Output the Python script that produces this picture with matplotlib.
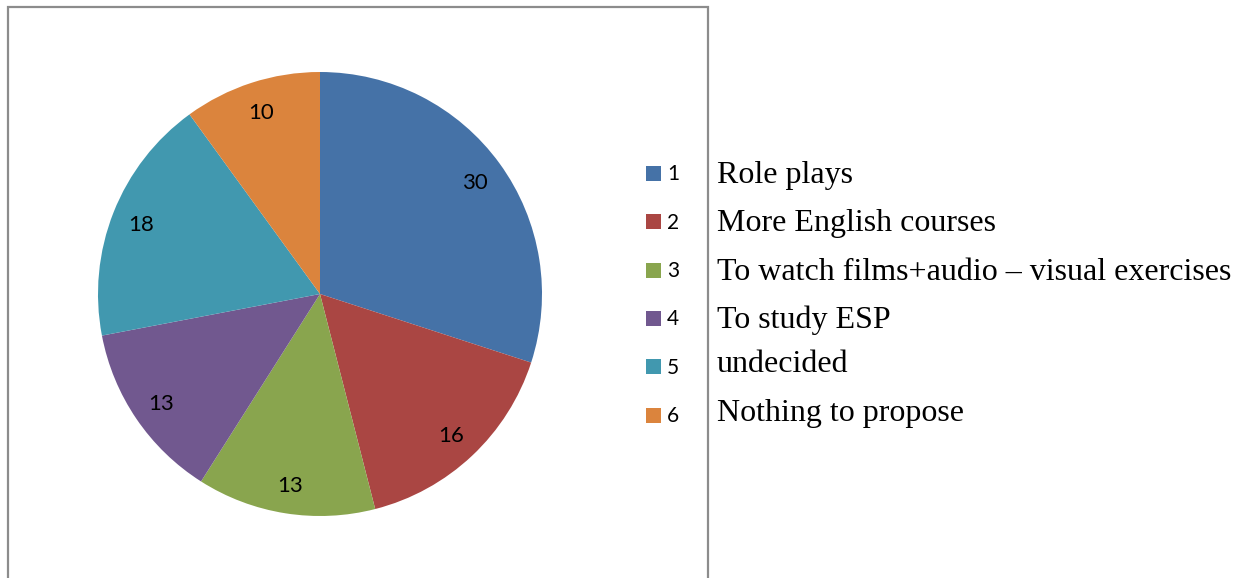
import matplotlib
matplotlib.use("Agg")
import matplotlib.pyplot as plt
from matplotlib.patches import Rectangle

categories = ["1", "2", "3", "4", "5", "6"]
descriptions = ["Role plays", "More English courses",
                "To watch films+audio \u2013 visual exercises",
                "To study ESP", "undecided", "Nothing to propose"]
values = [30, 16, 13, 13, 18, 10]
colors = ["#4572A7", "#AA4643", "#89A54E", "#71588F", "#4198AF", "#DB843D"]

W, H = 1246, 578
fig = plt.figure(figsize=(W / 100, H / 100), dpi=100)
fig.patch.set_facecolor("white")

def fx(px):
    return px / W

def fy(py):
    return 1 - py / H

# chart frame
fig.patches.append(Rectangle((fx(7.5), fy(600)), fx(700), (600 - 6.5) / H,
                             transform=fig.transFigure, fill=False,
                             edgecolor="#8c8c8c", linewidth=1.6))

cx, cy, r = 320, 294, 222
ax = fig.add_axes([fx(cx - r), fy(cy + r), 2 * r / W, 2 * r / H])
wedges, texts = ax.pie(values, colors=colors, startangle=90, counterclock=False,
                       labels=[str(v) for v in values], labeldistance=0.865,
                       wedgeprops=dict(linewidth=0),
                       textprops=dict(fontsize=16, family="Lato", color="black"))
for t in texts:
    t.set_ha("center")
    t.set_va("center_baseline")
ax.set_xlim(-1, 1)
ax.set_ylim(-1, 1)
ax.set_aspect("auto")
ax.axis("off")

# legend
row0, step = 173.5, 48.3
text_rows = [175, 224, 273, 320, 365, 414]
for i, (cat, desc, col) in enumerate(zip(categories, descriptions, colors)):
    y = row0 + i * step
    fig.patches.append(Rectangle((fx(646), fy(y + 7.5)), 15 / W, 15 / H,
                                 transform=fig.transFigure, facecolor=col,
                                 edgecolor="none"))
    fig.text(fx(667), fy(y + 1), cat, fontsize=15, family="Lato",
             va="center", ha="left")
    fig.text(fx(717), fy(text_rows[i]), desc, fontsize=23,
             family="Liberation Serif", va="center", ha="left")

fig.savefig("out.png", dpi=100)
